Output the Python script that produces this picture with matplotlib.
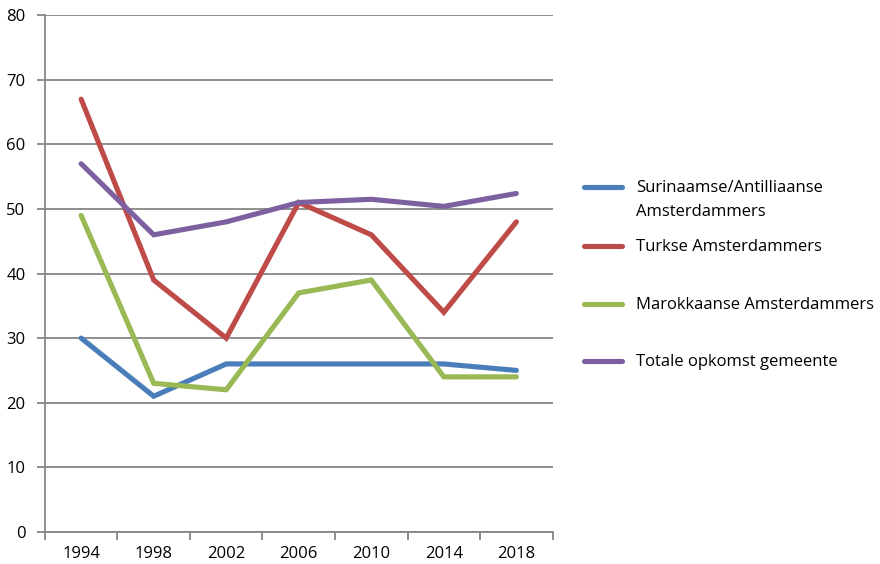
import matplotlib
matplotlib.use("Agg")
import matplotlib.pyplot as plt
from matplotlib.lines import Line2D
import numpy as np

plt.rcParams['font.family'] = ['Open Sans', 'DejaVu Sans']

years = ["1994", "1998", "2002", "2006", "2010", "2014", "2018"]
surinaams = [30, 21, 26, 26, 26, 26, 25]
turks = [67, 39, 30, 51, 46, 34, 48]
marokkaans = [49, 23, 22, 37, 39, 24, 24]
totaal = [57, 46, 48, 51, 51.5, 50.4, 52.4]

labels = ["Surinaamse/Antilliaanse\nAmsterdammers", "Turkse Amsterdammers",
          "Marokkaanse Amsterdammers", "Totale opkomst gemeente"]
colors = ["#4A7EBB", "#BE4B48", "#98B954", "#7D60A0"]
series = [surinaams, turks, marokkaans, totaal]

fig = plt.figure(figsize=(8.8, 5.64), dpi=100)
ax = fig.add_axes([0.051, 0.057, 0.577, 0.916])

x = np.arange(len(years))
for vals, c in zip(series, colors):
    ax.plot(x, vals, color=c, linewidth=3.7, solid_capstyle='round', solid_joinstyle='miter')

ax.set_xlim(-0.5, len(years) - 0.5)
ax.set_ylim(0, 80)
ax.set_yticks(range(0, 81, 10))
ax.yaxis.grid(True, color="#868686", linewidth=1.3)
ax.set_axisbelow(True)

ax.set_xticks(x)
ax.set_xticklabels(years)
ax.set_xticks(np.arange(-0.5, len(years)), minor=True)
ax.tick_params(axis='x', which='major', length=0, pad=10, labelsize=12)
ax.tick_params(axis='x', which='minor', length=6, width=1.3, color="#868686", direction='out')
ax.tick_params(axis='y', length=6, width=1.3, color="#868686", pad=8, labelsize=12)

for s in ['top', 'right']:
    ax.spines[s].set_visible(False)
for s in ['left', 'bottom']:
    ax.spines[s].set_color("#868686")
    ax.spines[s].set_linewidth(1.3)

# legend drawn by hand to match the spreadsheet layout
ys = [1 - 187 / 564, 1 - 246 / 564, 1 - 304 / 564, 1 - 361 / 564]
for lab, c, yy in zip(labels, colors, ys):
    fig.add_artist(Line2D([584 / 880, 622 / 880], [yy, yy], color=c, linewidth=3.7,
                          solid_capstyle='round', transform=fig.transFigure))
    fig.text(636 / 880, yy + 0.0125, lab, fontsize=12, va='top', ha='left',
             linespacing=1.65)

fig.savefig("out.png", dpi=100)
